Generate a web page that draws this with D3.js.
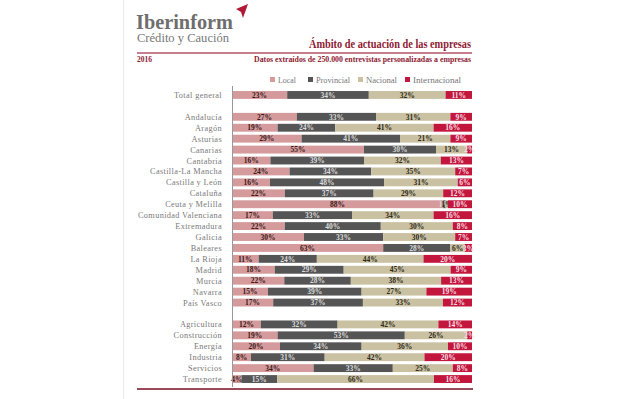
<!DOCTYPE html>
<html><head><meta charset="utf-8">
<script src="https://cdn.jsdelivr.net/npm/d3@7"></script>
<style>
body{margin:0;background:#fff;}
svg{display:block;}
text{font-family:"Liberation Serif","DejaVu Serif",serif;}
</style></head>
<body><svg id="c" width="641" height="399"></svg>
<script>
const categories = ["Total general","gap1","Andalucía","Aragón","Asturias","Canarias","Cantabria","Castilla-La Mancha","Castilla y León","Cataluña","Ceuta y Melilla","Comunidad Valenciana","Extremadura","Galicia","Baleares","La Rioja","Madrid","Murcia","Navarra","País Vasco","gap2","Agricultura","Construcción","Energía","Industria","Servicios","Transporte"];
const local =         [23,null,27,19,29,55,16,24,16,22,88,17,22,30,63,11,18,22,15,17,null,12,19,20,8,34,4];
const provincial =    [34,null,33,24,41,30,39,34,48,37,1,33,40,33,28,24,29,28,39,37,null,32,53,34,31,33,15];
const nacional =      [32,null,31,41,21,13,32,35,31,29,1,34,30,30,6,44,45,38,27,33,null,42,26,36,42,25,66];
const internacional = [11,null,9,16,9,2,13,7,6,12,10,16,8,7,3,20,9,13,19,12,null,14,2,10,20,8,16];
const seriesNames = ["Local","Provincial","Nacional","Internacional"];
const colors = ["#d49a9c","#555555","#c9c1a2","#c3163c"];
const labelColors = ["#3b1a1a","#dcdcdc","#2f2a1a","#f6dfe3"];

const svg = d3.select("#c");
const red = "#8e1b34";

// page border
svg.append("line").attr("x1",123.5).attr("x2",123.5).attr("y1",0).attr("y2",399).attr("stroke","#ececec").attr("stroke-width",1);

// logo
svg.append("text").attr("x",136).attr("y",29).attr("font-size",22).attr("font-weight","bold").attr("fill","#6e6e6e").attr("textLength",97).attr("lengthAdjust","spacingAndGlyphs").text("Iberinform");
svg.append("text").attr("x",137).attr("y",42).attr("font-size",12).attr("fill","#777").attr("textLength",92).attr("lengthAdjust","spacingAndGlyphs").text("Crédito y Caución");
svg.append("path").attr("d","M236,9 L248,4 L243,18 L241,12 Z").attr("fill","#b01a38");

// title
svg.append("text").attr("x",471).attr("y",48).attr("text-anchor","end").attr("font-size",11.5).attr("font-weight","bold").attr("fill",red).attr("textLength",162).attr("lengthAdjust","spacingAndGlyphs").text("Ámbito de actuación de las empresas");
svg.append("line").attr("x1",137).attr("x2",472).attr("y1",53).attr("y2",53).attr("stroke","#b5536a").attr("stroke-width",1.5);
svg.append("text").attr("x",137).attr("y",62).attr("font-size",7.5).attr("font-weight","bold").attr("fill",red).text("2016");
svg.append("text").attr("x",471).attr("y",62).attr("text-anchor","end").attr("font-size",7.5).attr("font-weight","bold").attr("fill",red).attr("textLength",217).attr("lengthAdjust","spacingAndGlyphs").text("Datos extraídos de 250.000 entrevistas personalizadas a empresas");

// legend
const legX = [270,308,358,405];
const legW = [18,34,31,48];
seriesNames.forEach((s,i)=>{
  svg.append("rect").attr("x",legX[i]).attr("y",77).attr("width",5).attr("height",5).attr("fill",colors[i]);
  svg.append("text").attr("x",legX[i]+8).attr("y",82.5).attr("font-size",8).attr("fill","#777").attr("textLength",legW[i]).attr("lengthAdjust","spacingAndGlyphs").text(s);
});

// chart
const x = d3.scaleLinear().domain([0,1]).range([232,472]);
const y = d3.scaleBand().domain(categories).range([89.5,384.5]).paddingInner(0.28).paddingOuter(0.14);

const rows = categories.map((c,i)=>({c, v:[local[i],provincial[i],nacional[i],internacional[i]]})).filter(d=>d.v[0]!==null);

svg.append("g").selectAll("text").data(rows).join("text")
  .attr("x",222).attr("y",d=>y(d.c)+y.bandwidth()/2+3)
  .attr("text-anchor","end").attr("font-size",8.3).attr("letter-spacing",0.35).attr("fill","#7a7a7a")
  .text(d=>d.c);

rows.forEach(d=>{
  const tot = d3.sum(d.v);
  let acc = 0;
  const g = svg.append("g");
  d.v.forEach((v,i)=>{
    const x0 = x(acc/tot), x1 = x((acc+v)/tot);
    acc += v;
    g.append("rect").attr("x",x0).attr("y",y(d.c)).attr("width",x1-x0).attr("height",y.bandwidth()).attr("fill",colors[i]);
    g.append("text").attr("x",(x0+x1)/2).attr("y",y(d.c)+y.bandwidth()/2+2.7)
      .attr("text-anchor","middle").attr("font-size",7.5).attr("font-weight","bold").attr("fill",labelColors[i])
      .text(v+"%");
  });
});

svg.append("line").attr("x1",232.5).attr("x2",232.5).attr("y1",86).attr("y2",387).attr("stroke","#999").attr("stroke-width",1);

// bottom rule
svg.append("line").attr("x1",137).attr("x2",473).attr("y1",389).attr("y2",389).attr("stroke","#9b4a5c").attr("stroke-width",2);
</script></body></html>
